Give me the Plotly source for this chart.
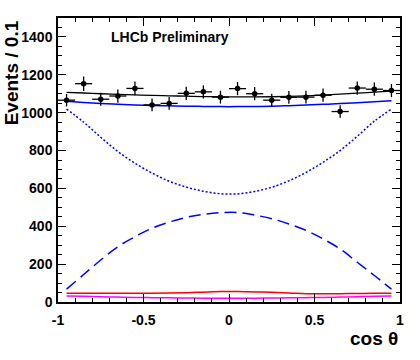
import plotly.graph_objects as go

# data points (bin centres, counts, errors)
cos_bins = [-0.95, -0.85, -0.75, -0.65, -0.55, -0.45, -0.35, -0.25, -0.15, -0.05,
            0.05, 0.15, 0.25, 0.35, 0.45, 0.55, 0.65, 0.75, 0.85, 0.95]
events = [1066, 1153, 1071, 1088, 1128, 1041, 1049, 1102, 1110, 1082,
          1127, 1100, 1066, 1081, 1082, 1092, 1006, 1130, 1124, 1117]
events_err = [33, 38, 34, 35, 36, 34, 34, 35, 35, 34,
              35, 35, 34, 34, 34, 35, 33, 35, 35, 35]
bin_half = [0.05] * len(cos_bins)

# fit components evaluated at bin centres
total_fit = [1107, 1104, 1100, 1097, 1094, 1091, 1089, 1087, 1085, 1084,
             1083, 1083, 1084, 1086, 1089, 1093, 1098, 1103, 1108, 1114]
signal_fit = [1060, 1054, 1049, 1045, 1041, 1038, 1036, 1034, 1033, 1032,
              1032, 1033, 1034, 1037, 1040, 1044, 1048, 1053, 1058, 1063]
comp_dotted = [1019, 950, 870, 795, 733, 681, 638, 607, 585, 572,
               571, 584, 606, 640, 684, 738, 800, 875, 955, 1019]
comp_dashed = [68, 145, 222, 292, 345, 390, 422, 447, 463, 472,
               473, 459, 440, 412, 378, 333, 280, 210, 140, 68]
bkg_red = [46, 46, 46, 46, 46, 46, 47, 49, 52, 55,
           55, 53, 51, 48, 44, 43, 44, 45, 46, 46]
bkg_magenta = [32, 30, 28, 26, 24, 23, 22, 21, 20, 20,
               20, 20, 21, 22, 23, 24, 26, 28, 30, 32]

x_ticks = [-1, -0.5, 0, 0.5, 1]
x_ticktext = ['-1', '-0.5', '0', '0.5', '1']
y_ticks = [0, 200, 400, 600, 800, 1000, 1200, 1400]

FONT = 'Liberation Sans'

fig = go.Figure()

def curve(y, color, dash='solid', width=1.5):
    fig.add_trace(go.Scatter(x=cos_bins, y=y, mode='lines',
                             line=dict(color=color, dash=dash, width=width, shape='spline'),
                             showlegend=False, hoverinfo='skip'))

curve(bkg_magenta, '#ff00ff')
curve(bkg_red, '#ff0000')
curve(comp_dashed, '#0000ff', dash='12px,6px')
curve(comp_dotted, '#0000ff', dash='2px,2px')
curve(signal_fit, '#0000ff')
curve(total_fit, '#000000', width=1.3)

fig.add_trace(go.Scatter(
    x=cos_bins, y=events, mode='markers',
    marker=dict(color='black', size=5.5),
    error_x=dict(type='data', array=bin_half, color='black', thickness=1.3, width=0),
    error_y=dict(type='data', array=events_err, color='black', thickness=1.3, width=0),
    showlegend=False
))

axis_common = dict(
    showline=True, linecolor='black', linewidth=1.5, mirror='ticks',
    ticks='inside', ticklen=8, tickwidth=1.2, tickcolor='black',
    showgrid=False, zeroline=False,
    tickfont=dict(family=FONT, size=14, color='black', weight='bold'),
)

fig.update_xaxes(range=[-1, 1], tickvals=x_ticks, ticktext=x_ticktext,
                 minor=dict(ticks='inside', dtick=0.1, ticklen=4, tickcolor='black', tickwidth=1.1),
                 ticklabelstandoff=4,
                 **axis_common)
fig.update_yaxes(range=[0, 1500], tickvals=y_ticks,
                 minor=dict(ticks='inside', dtick=50, ticklen=4, tickcolor='black', tickwidth=1.1),
                 ticklabelstandoff=1,
                 **axis_common)

fig.add_annotation(text='LHCb Preliminary', xref='paper', yref='paper',
                   x=0.148, y=0.933, xanchor='left', yanchor='middle', showarrow=False,
                   font=dict(family=FONT, size=14, color='black', weight='bold'))
fig.add_annotation(text='Events / 0.1', xref='paper', yref='paper',
                   x=-0.135, y=1.0, xanchor='center', yanchor='top', textangle=-90,
                   showarrow=False,
                   font=dict(family=FONT, size=19, color='black', weight='bold'))
fig.add_annotation(text='cos θ', xref='paper', yref='paper',
                   x=1.0, y=-0.085, xanchor='right', yanchor='top', showarrow=False,
                   font=dict(family=FONT, size=19, color='black', weight='bold'))

fig.update_layout(
    width=420, height=360,
    margin=dict(l=58, r=20, t=18, b=58),
    paper_bgcolor='white', plot_bgcolor='white',
    showlegend=False,
)

# drop the default 8px page margin so the figure sits at the window corner
fig.write_html("out.html", config={'displayModeBar': False},
               post_script="document.body.style.margin='0';")
